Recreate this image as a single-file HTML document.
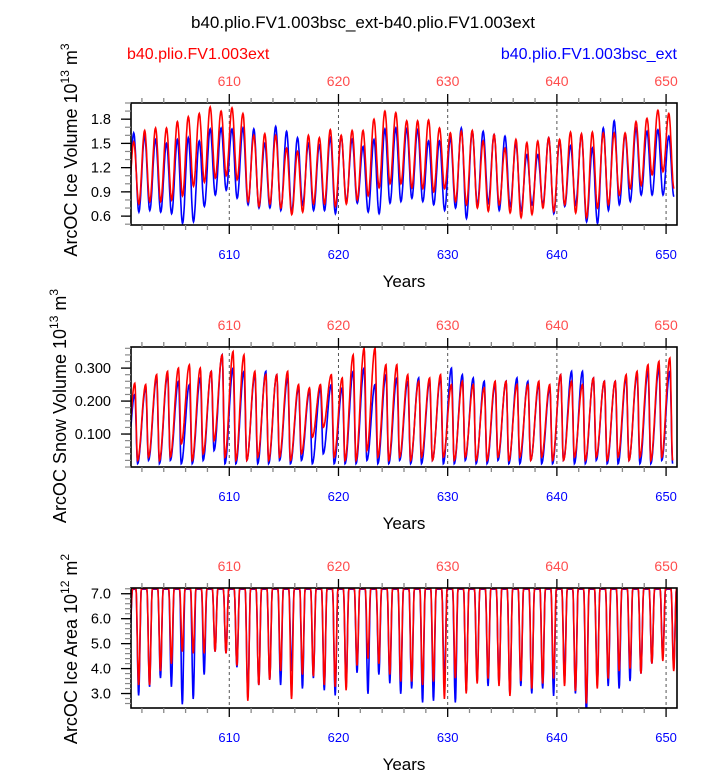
<!DOCTYPE html>
<html><head><meta charset="utf-8"><style>
html,body{margin:0;padding:0;background:#fff;}
svg{display:block;font-family:"Liberation Sans",sans-serif;}
</style></head><body>
<svg id="chart" width="723" height="771" viewBox="0 0 723 771" xmlns="http://www.w3.org/2000/svg">
<text x="363" y="28" font-size="17" text-anchor="middle">b40.plio.FV1.003bsc_ext-b40.plio.FV1.003ext</text>
<text x="127" y="59" font-size="16" fill="#ff0000">b40.plio.FV1.003ext</text>
<text x="677" y="59" font-size="16" fill="#0000ff" text-anchor="end">b40.plio.FV1.003bsc_ext</text>
<g id="panels"></g>
</svg>
<script>
const years = [];
for (let y = 601; y <= 650; y++) years.push(y);
const xTickYears = [610, 620, 630, 640, 650];

const volRedMax = [1.52,1.66,1.69,1.69,1.77,1.83,1.87,1.95,1.90,1.94,1.87,1.60,1.62,1.60,1.44,1.40,1.60,1.57,1.67,1.60,1.66,1.66,1.80,1.90,1.88,1.78,1.78,1.79,1.69,1.63,1.65,1.66,1.53,1.61,1.44,1.55,1.51,1.53,1.57,1.55,1.64,1.62,1.64,1.63,1.63,1.63,1.77,1.81,1.91,1.87];
const volRedMin = [0.75,0.78,0.78,0.80,0.85,0.97,1.02,1.07,1.10,1.05,0.78,0.72,0.75,0.70,0.62,0.65,0.75,0.75,0.72,0.75,0.80,0.85,0.95,1.00,1.00,0.95,0.94,0.90,0.94,0.78,0.74,0.70,0.66,0.74,0.64,0.58,0.62,0.70,0.66,0.74,0.64,0.58,0.70,0.74,0.86,0.94,0.98,1.11,1.15,0.94];
const volBlueMax = [1.63,1.59,1.55,1.50,1.55,1.57,1.53,1.68,1.69,1.68,1.69,1.68,1.50,1.71,1.65,1.57,1.50,1.48,1.57,1.59,1.55,1.46,1.55,1.68,1.69,1.68,1.67,1.53,1.53,1.57,1.69,1.65,1.65,1.61,1.59,1.49,1.36,1.36,1.57,1.53,1.47,1.61,1.44,1.69,1.78,1.61,1.69,1.65,1.67,1.59];
const volBlueMin = [0.65,0.67,0.65,0.63,0.51,0.53,0.72,0.86,0.92,0.82,0.74,0.70,0.70,0.67,0.65,0.74,0.67,0.67,0.63,0.78,0.76,0.65,0.63,0.76,0.78,0.82,0.78,0.74,0.67,0.70,0.57,0.74,0.76,0.67,0.72,0.67,0.74,0.74,0.63,0.72,0.74,0.53,0.51,0.67,0.74,0.78,0.86,0.86,0.86,0.84];

const snowRedMax = [0.254,0.25,0.28,0.29,0.30,0.31,0.30,0.29,0.34,0.35,0.34,0.29,0.28,0.28,0.29,0.25,0.24,0.25,0.28,0.27,0.34,0.36,0.36,0.31,0.31,0.28,0.26,0.27,0.28,0.25,0.26,0.25,0.24,0.26,0.26,0.25,0.25,0.26,0.25,0.28,0.26,0.25,0.27,0.26,0.26,0.28,0.29,0.31,0.32,0.33];
const snowRedMin = [0.02,0.03,0.02,0.03,0.07,0.02,0.04,0.08,0.03,0.02,0.02,0.03,0.02,0.03,0.02,0.04,0.09,0.12,0.03,0.02,0.02,0.05,0.03,0.02,0.03,0.02,0.03,0.02,0.03,0.02,0.03,0.02,0.02,0.03,0.02,0.03,0.02,0.03,0.02,0.02,0.03,0.02,0.03,0.02,0.03,0.02,0.03,0.02,0.03,0.02];
const snowBlueMax = [0.22,0.24,0.27,0.28,0.26,0.25,0.27,0.29,0.34,0.30,0.29,0.28,0.29,0.28,0.27,0.24,0.23,0.24,0.25,0.24,0.29,0.30,0.25,0.28,0.27,0.26,0.27,0.26,0.27,0.30,0.28,0.27,0.26,0.25,0.26,0.27,0.26,0.25,0.24,0.28,0.29,0.29,0.27,0.26,0.26,0.27,0.28,0.29,0.30,0.29];
const snowBlueMin = [0.01,0.02,0.01,0.02,0.01,0.01,0.02,0.05,0.01,0.01,0.02,0.01,0.01,0.02,0.01,0.02,0.01,0.04,0.01,0.01,0.01,0.02,0.01,0.01,0.02,0.01,0.01,0.02,0.01,0.01,0.02,0.01,0.01,0.02,0.01,0.01,0.02,0.01,0.01,0.02,0.01,0.01,0.02,0.01,0.01,0.02,0.01,0.01,0.02,0.01];

const areaRedMax = [7.2,7.2,7.2,7.2,7.2,7.2,7.2,7.2,7.2,7.2,7.2,7.2,7.2,7.2,7.2,7.2,7.2,7.2,7.2,7.2,7.2,7.2,7.2,7.2,7.2,7.2,7.2,7.2,7.2,7.2,7.2,7.2,7.2,7.2,7.2,7.2,7.2,7.2,7.2,7.2,7.2,7.2,7.2,7.2,7.2,7.2,7.2,7.2,7.2,7.2];
const areaRedMin = [3.34,3.34,3.90,4.19,4.68,4.61,4.61,4.68,4.61,4.12,2.71,3.34,3.55,3.90,2.78,3.76,3.69,3.34,3.27,3.13,4.12,4.40,4.19,3.76,3.48,3.48,3.34,3.48,2.78,3.62,3.00,3.40,3.60,3.30,2.90,3.50,3.20,3.40,3.60,3.30,3.10,2.60,3.20,3.60,3.90,4.00,3.80,4.20,4.30,3.90];
const areaBlueMax = [7.18,7.18,7.18,7.18,7.18,7.18,7.18,7.18,7.18,7.18,7.18,7.18,7.18,7.18,7.18,7.18,7.18,7.18,7.18,7.18,7.18,7.18,7.18,7.18,7.18,7.18,7.18,7.18,7.18,7.18,7.18,7.18,7.18,7.18,7.18,7.18,7.18,7.18,7.18,7.18,7.18,7.18,7.18,7.18,7.18,7.18,7.18,7.18,7.18,7.18];
const areaBlueMin = [2.92,3.27,3.62,3.27,2.57,2.78,3.76,4.68,4.61,4.05,2.92,3.34,3.55,3.34,3.90,3.20,3.62,3.13,2.92,3.34,3.83,2.99,3.76,3.41,2.99,3.20,2.64,2.71,3.48,2.64,3.10,3.50,3.30,3.40,3.00,3.30,3.00,3.20,2.90,3.60,3.00,2.20,3.40,3.30,3.20,3.50,3.80,4.20,4.50,4.10];

const volTicks = [0.6,0.9,1.2,1.5,1.8];
const volTickLabels = ["0.6","0.9","1.2","1.5","1.8"];
const snowTicks = [0.1,0.2,0.3];
const snowTickLabels = ["0.100","0.200","0.300"];
const areaTicks = [3,4,5,6,7];
const areaTickLabels = ["3.0","4.0","5.0","6.0","7.0"];

const NS = "http://www.w3.org/2000/svg";
const X0 = 131, X1 = 677, T0 = 601, T1 = 651;
function xScale(t){ return X0 + (t - T0) * (X1 - X0) / (T1 - T0); }
function mk(tag, attrs, parent){
  const e = document.createElementNS(NS, tag);
  for (const k in attrs) e.setAttribute(k, attrs[k]);
  parent.appendChild(e); return e;
}
const root = document.getElementById('panels');

function buildKnots(maxA, minA, kind){
  const k = [];
  for (let i = 0; i < years.length; i++){
    const y = years[i];
    if (kind === 'area'){
      k.push([y+0.15, maxA[i]]); k.push([y+0.45, maxA[i]]);
      k.push([y+0.7, minA[i]]); k.push([y+0.95, maxA[i]]);
    } else if (kind === 'snow'){
      k.push([y+0.35, maxA[i]]); k.push([y+0.6, minA[i]]);
    } else {
      k.push([y+0.25, maxA[i]]); k.push([y+0.72, minA[i]]);
    }
  }
  const pre = kind==='snow' ? [years[0]-0.4, minA[0]] : [years[0]-0.28, minA[0]];
  k.unshift(pre);
  return k;
}
function sample(knots){
  const pts = [];
  for (let j = 0; j < knots.length-1; j++){
    const [ta,va] = knots[j], [tb,vb] = knots[j+1];
    const n = Math.max(2, Math.round((tb-ta)*30));
    for (let s = 0; s < n; s++){
      const u = s/n, w = (1-Math.cos(Math.PI*u))/2;
      pts.push([ta+(tb-ta)*u, va+(vb-va)*w]);
    }
  }
  pts.push(knots[knots.length-1]);
  return pts;
}

const panels = [
  {name:'ice-volume', top:103, bottom:225, ymin:0.49, ymax:2.0, ticks:volTicks, labels:volTickLabels, minor:0.1, kind:'vol',
   red:[volRedMax,volRedMin], blue:[volBlueMax,volBlueMin], title:['ArcOC Ice Volume 10','13',' m','3'], tcy:150, tcx:77},
  {name:'snow-volume', top:347, bottom:467, ymin:0.0, ymax:0.364, ticks:snowTicks, labels:snowTickLabels, minor:0.02, kind:'snow',
   red:[snowRedMax,snowRedMin], blue:[snowBlueMax,snowBlueMin], title:['ArcOC Snow Volume 10','13',' m','3'], tcy:406, tcx:66},
  {name:'ice-area', top:588, bottom:708, ymin:2.42, ymax:7.23, ticks:areaTicks, labels:areaTickLabels, minor:0.2, kind:'area',
   red:[areaRedMax,areaRedMin], blue:[areaBlueMax,areaBlueMin], title:['ArcOC Ice Area 10','12',' m','2'], tcy:649, tcx:77}
];

panels.forEach((p, pi) => {
  const g = mk('g', {}, root);
  
  
  const yS = v => p.bottom - (v - p.ymin) * (p.bottom - p.top) / (p.ymax - p.ymin);
  const cid = 'clip' + pi;
  const cp = mk('clipPath', {id: cid}, g);
  mk('rect', {x:X0, y:p.top, width:X1-X0, height:p.bottom-p.top}, cp);
  xTickYears.forEach(t => {
    const l = mk('line', {x1:xScale(t), x2:xScale(t), y1:p.top, y2:p.bottom, stroke:'#555', 'stroke-width':1, 'stroke-dasharray':'3,3'}, g);
    
    
  });
  [['blue','#0000ff'],['red','#ff0000']].forEach(([nm,col]) => {
    const pts = sample(buildKnots(p[nm][0], p[nm][1], p.kind));
    const d = pts.map((q,i)=>(i?'L':'M')+xScale(q[0]).toFixed(1)+','+yS(q[1]).toFixed(1)).join('');
    const path = mk('path', {d:d, fill:'none', stroke:col, 'stroke-width':1.6, 'clip-path':'url(#'+cid+')'}, g);
    
    
  });
  const fr = mk('rect', {x:X0, y:p.top, width:X1-X0, height:p.bottom-p.top, fill:'none', stroke:'#000', 'stroke-width':1.6}, g);
  
  
  for (let t = 602; t <= 650; t += 2){
    const major = t % 10 === 0;
    const len = major ? 9 : 5;
    const xx = xScale(t);
    mk('line', {x1:xx, x2:xx, y1:p.top, y2:p.top-len, stroke:major?'#000':'#888', 'stroke-width':1.3}, g);
    mk('line', {x1:xx, x2:xx, y1:p.bottom, y2:p.bottom+len, stroke:major?'#000':'#888', 'stroke-width':1.3}, g);
  }
  xTickYears.forEach(t => {
    const a = mk('text', {x:xScale(t), y:p.top-17, 'font-size':14, fill:'#ff4d4d', 'text-anchor':'middle'}, g);
    a.textContent = t;
    
    
    const b = mk('text', {x:xScale(t), y:p.bottom+34, 'font-size':13, fill:'#0000ff', 'text-anchor':'middle'}, g);
    b.textContent = t;
    
    
  });
  const xt = mk('text', {x:404, y:p.bottom+62, 'font-size':17, 'text-anchor':'middle'}, g);
  xt.textContent = 'Years';
  
  
  const start = Math.ceil(p.ymin / p.minor - 1e-6);
  for (let k = start; k * p.minor <= p.ymax + 1e-9; k++){
    const v = k * p.minor, yy = yS(v);
    if (yy < p.top - 0.5 || yy > p.bottom + 0.5) continue;
    mk('line', {x1:X0, x2:X0-6, y1:yy, y2:yy, stroke:'#888', 'stroke-width':1.2}, g);
  }
  p.ticks.forEach((v, i) => {
    const yy = yS(v);
    mk('line', {x1:X0, x2:X0-10, y1:yy, y2:yy, stroke:'#000', 'stroke-width':1.3}, g);
    const tl = mk('text', {x:111, y:yy+5, 'font-size':14.5, 'text-anchor':'end'}, g);
    tl.textContent = p.labels[i];
    
    
  });
  const yt = mk('text', {x:0, y:0, 'font-size':18, 'text-anchor':'middle', transform:'translate('+p.tcx+','+p.tcy+') rotate(-90)'}, g);
  
  
  const parts = p.title;
  const s1 = mk('tspan', {}, yt); s1.textContent = parts[0];
  const s2 = mk('tspan', {'font-size':12, dy:-8}, yt); s2.textContent = parts[1];
  const s3 = mk('tspan', {dy:8}, yt); s3.textContent = parts[2];
  const s4 = mk('tspan', {'font-size':12, dy:-8}, yt); s4.textContent = parts[3];
});
</script>
</body></html>
